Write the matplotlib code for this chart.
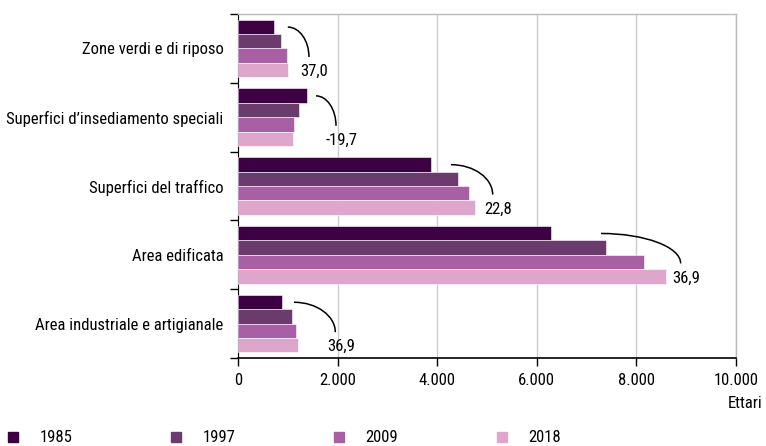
import matplotlib

matplotlib.use("Agg")
import matplotlib.pyplot as plt
import numpy as np
from matplotlib.lines import Line2D
from matplotlib.patches import PathPatch
from matplotlib.path import Path
from matplotlib.ticker import FuncFormatter

plt.rcParams["font.family"] = ["Roboto Condensed", "Archivo Narrow", "DejaVu Sans"]
plt.rcParams["font.size"] = 12

CATEGORIES = [
    "Zone verdi e di riposo",
    "Superfici d\u2019insediamento speciali",
    "Superfici del traffico",
    "Area edificata",
    "Area industriale e artigianale",
]
YEARS = ["1985", "1997", "2009", "2018"]
V1985 = [729, 1386, 3882, 6285, 884]
V1997 = [863, 1225, 4418, 7396, 1084]
V2009 = [984, 1131, 4632, 8159, 1158]
V2018 = [998, 1111, 4759, 8594, 1212]
CHANGE_LABELS = ["37,0", "-19,7", "22,8", "36,9", "36,9"]
X_TICKS = [0, 2000, 4000, 6000, 8000, 10000]

COLORS = ["#3d0042", "#6b3b6e", "#a95fa3", "#dea6cb"]
# where each change arc starts and ends (hectares), layout only
ARC_SPANS = [(1000, 1425), (1566, 1968), (4277, 5114), (7289, 8889), (1124, 1954)]

BAR_H = 0.21

fig = plt.figure(figsize=(7.66, 4.46), dpi=100)
ax = fig.add_axes([238 / 766, 1 - 358 / 446, 498 / 766, 344 / 446])

y = np.arange(len(CATEGORIES))
for i, (vals, color, year) in enumerate(zip([V1985, V1997, V2009, V2018], COLORS, YEARS)):
    ax.barh(y + (i - 1.5) * BAR_H, vals, height=BAR_H, color=color,
            edgecolor="white", linewidth=0.4, label=year, zorder=3)

for yi, (x0, x1), text in zip(y, ARC_SPANS, CHANGE_LABELS):
    y0 = yi - 0.31
    y1 = yi + 0.125
    verts = [(x0, y0), (x0 + 0.55 * (x1 - x0), y0), (x1, y1 - 0.55 * (y1 - y0)), (x1, y1)]
    path = Path(verts, [Path.MOVETO, Path.CURVE4, Path.CURVE4, Path.CURVE4])
    ax.add_patch(PathPatch(path, facecolor="none", edgecolor="black", linewidth=1.1, zorder=4))
    ax.annotate(text, xy=(x1, y1), xytext=(4, -10.5), textcoords="offset points",
                ha="center", va="center")

ax.set_xlim(0, 10000)
ax.set_ylim(len(CATEGORIES) - 0.5, -0.5)
ax.set_xticks(X_TICKS)
ax.xaxis.set_major_formatter(FuncFormatter(lambda v, _: f"{int(v):,}".replace(",", ".")))
ax.set_yticks(y)
ax.set_yticklabels(CATEGORIES)
ax.set_yticks(np.arange(len(CATEGORIES) + 1) - 0.5, minor=True)
ax.tick_params(axis="y", which="major", length=0, pad=10.5)
ax.tick_params(axis="y", which="minor", length=6, width=1, color="black", direction="out")
ax.tick_params(axis="x", which="major", length=6, width=1, color="black", pad=5)
ax.xaxis.grid(True, color="#cccccc", linewidth=1, zorder=0)
ax.set_axisbelow(True)

for side in ["top", "right"]:
    ax.spines[side].set_color("#bbbbbb")
    ax.spines[side].set_linewidth(1)
ax.spines["left"].set_color("black")
ax.spines["bottom"].set_color("black")
ax.spines["bottom"].set_linewidth(1.2)

ax.annotate("Ettari", xy=(1, 0), xycoords="axes fraction", xytext=(19, -33),
            textcoords="offset points", ha="right", va="center")

handles = [Line2D([], [], linestyle="none", marker="s", markersize=6.5, color=c) for c in COLORS]
fig.legend(handles, YEARS, loc="center left", bbox_to_anchor=(5 / 766, 1 - 438 / 446),
           ncol=4, frameon=False, borderpad=0, borderaxespad=0, handlelength=1.0,
           handletextpad=1.1, columnspacing=5.7)

fig.savefig("out.png", dpi=100)
